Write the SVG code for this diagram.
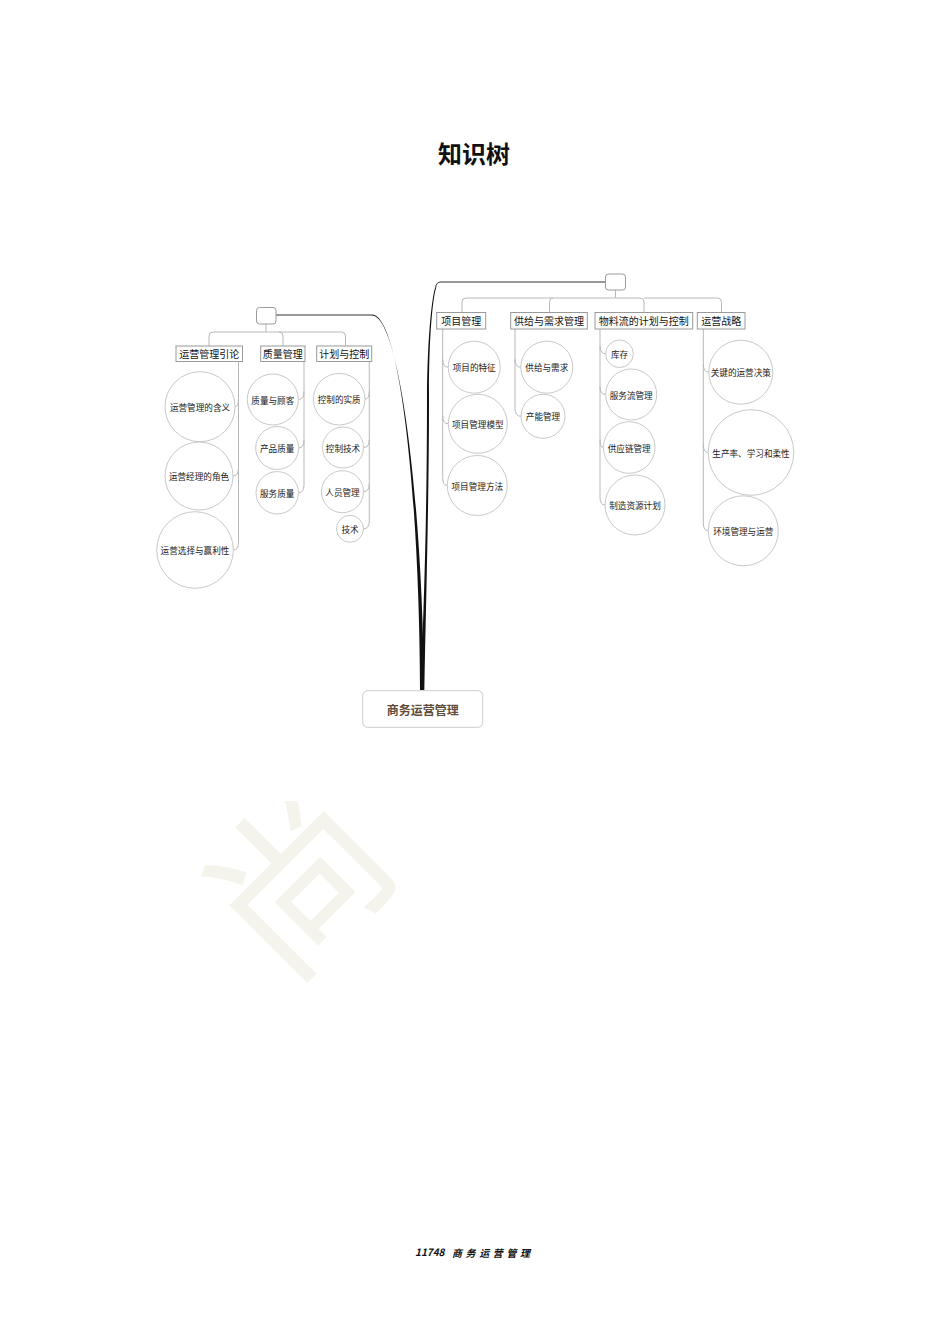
<svg xmlns="http://www.w3.org/2000/svg" width="950" height="1344" viewBox="0 0 950 1344">
<style>
text{font-family:"Noto Sans CJK SC","Liberation Sans",sans-serif;text-anchor:middle;dominant-baseline:central}
.lbl rect{fill:#fff;stroke:#9a9a9a;stroke-width:1}
.lbl text{font-size:10px;fill:#111}
.c circle{fill:#fff;stroke:#c9c9c9;stroke-width:1}
.c text{font-size:8.6px;fill:#1a1a1a}
.ln{fill:none;stroke:#b8b8b8;stroke-width:1}
.hub{fill:#fff;stroke:#9a9a9a;stroke-width:1}
.dk{fill:none;stroke:#333;stroke-width:1}
</style>
<defs>
<clipPath id="wm"><rect x="0" y="801" width="950" height="250"/></clipPath>
</defs>
<rect width="950" height="1344" fill="#fff"/>
<g id="watermark" clip-path="url(#wm)">
<text transform="translate(290,872) rotate(-45)" font-size="175" fill="#f5f4ec">尚</text>
</g>
<text id="title" x="474" y="152" font-size="24" font-weight="bold" fill="#111">知识树</text>

<g id="connectors">
<path class="dk" d="M276 315 L372 315"/>
<path d="M372 314.5 C400.5 314.5 419.5 500 420 691 L424 691 C422.5 500 399.5 315.5 372 315.5 Z" fill="#111"/>
<path class="dk" d="M605.5 282 L441 282 Q436 282 435.6 288"/>
<path d="M435 288 C431.5 300 427.3 340 427 400 C427 500 424.5 600 420.3 691 L424.3 691 C426 600 429 500 429 400 C428.7 340 432.5 300 436 288 Z" fill="#111"/>
<path class="ln" d="M266 324 L266 332"/>
<path class="ln" d="M266 332 L213 332 Q209 332 209 336 L209 346"/>
<path class="ln" d="M266 332 L279 332 Q283 332 283 336 L283 346"/>
<path class="ln" d="M279 332 L341.5 332 Q345.5 332 345.5 336 L345.5 346"/>
<path class="ln" d="M238.5 361.5 L238.5 542 M238.5 398.7 Q238.5 406.7 235 406.7 M238.5 468 Q238.5 476 233 476 M238.5 542 Q238.5 550 233.3 550"/>
<path class="ln" d="M304 361.7 L304 484.8 M304 391.5 Q304 399.5 298.3 399.5 M304 440 Q304 448 298.7 448 M304 484.8 Q304 492.8 298.4 492.8"/>
<path class="ln" d="M369.3 361 L369.3 520.8 M369.3 391.2 Q369.3 399.2 365 399.2 M369.3 439.5 Q369.3 447.5 363.5 447.5 M369.3 483.7 Q369.3 491.7 363.5 491.7 M369.3 520.8 Q369.3 528.8 363.5 528.8"/>
<path class="ln" d="M615.5 290 L615.5 298"/>
<path class="ln" d="M615.5 298 L466 298 Q462 298 462 302 L462 312.5"/>
<path class="ln" d="M553 298 Q549.5 298 549.5 302 L549.5 312.5"/>
<path class="ln" d="M615.5 298 L640 298 Q644 298 644 302 L644 312.5"/>
<path class="ln" d="M644 298 L717.5 298 Q721.5 298 721.5 302 L721.5 312.5"/>
<path class="ln" d="M442.7 329 L442.7 477.5 M442.7 359.2 Q442.7 367.2 448.2 367.2 M442.7 415.8 Q442.7 423.8 448.3 423.8 M442.7 477.5 Q442.7 485.5 447.3 485.5"/>
<path class="ln" d="M515 329 L515 408.3 M515 359.2 Q515 367.2 520.8 367.2 M515 408.3 Q515 416.3 521 416.3"/>
<path class="ln" d="M600 329 L600 497 M600 345.8 Q600 353.8 605.7 353.8 M600 386.5 Q600 394.5 605.7 394.5 M600 439.5 Q600 447.5 603.4 447.5 M600 497 Q600 505 605 505"/>
<path class="ln" d="M703.3 329 L703.3 522.8 M703.3 364.2 Q703.3 372.2 708.8 372.2 M703.3 444.5 Q703.3 452.5 708.2 452.5 M703.3 522.8 Q703.3 530.8 708.3 530.8"/>
</g>

<g id="root">
<rect x="362.7" y="690.7" width="120" height="36.6" rx="5" fill="#fff" stroke="#d6d6d6" stroke-width="1.2"/>
<text x="422.7" y="709.5" font-size="12" font-weight="bold" fill="#5e4c38">商务运营管理</text>
</g>

<g id="hub-left"><rect class="hub" x="256.5" y="307.5" width="19.5" height="16.5" rx="3"/></g>
<g id="hub-right"><rect class="hub" x="605.5" y="274" width="20" height="16" rx="3"/></g>

<g id="l1" class="lbl"><rect x="176" y="346" width="66.5" height="15.5"/><text x="209.2" y="353.8">运营管理引论</text></g>
<g id="l2" class="lbl"><rect x="260.7" y="346" width="44.3" height="15.5"/><text x="282.8" y="353.8">质量管理</text></g>
<g id="l3" class="lbl"><rect x="316.7" y="346" width="55" height="15.5"/><text x="344.2" y="353.8">计划与控制</text></g>
<g id="r1" class="lbl"><rect x="436.7" y="312.5" width="49" height="16.5"/><text x="461.2" y="320.8">项目管理</text></g>
<g id="r2" class="lbl"><rect x="510.7" y="312.5" width="76.6" height="16.5"/><text x="549" y="320.8">供给与需求管理</text></g>
<g id="r3" class="lbl"><rect x="595" y="312.5" width="97.7" height="16.5"/><text x="643.8" y="320.8">物料流的计划与控制</text></g>
<g id="r4" class="lbl"><rect x="697.3" y="312.5" width="47.7" height="16.5"/><text x="721.2" y="320.8">运营战略</text></g>

<g id="c-l1a" class="c"><circle cx="200" cy="406.7" r="35"/><text x="200" y="406.7">运营管理的含义</text></g>
<g id="c-l1b" class="c"><circle cx="199" cy="476" r="34"/><text x="199" y="476">运营经理的角色</text></g>
<g id="c-l1c" class="c"><circle cx="195" cy="550" r="38.3"/><text x="195" y="550">运营选择与赢利性</text></g>
<g id="c-l2a" class="c"><circle cx="272.8" cy="399.5" r="25.5"/><text x="272.8" y="399.5">质量与顾客</text></g>
<g id="c-l2b" class="c"><circle cx="277.2" cy="448" r="21.5"/><text x="277.2" y="448">产品质量</text></g>
<g id="c-l2c" class="c"><circle cx="277.2" cy="492.8" r="21.2"/><text x="277.2" y="492.8">服务质量</text></g>
<g id="c-l3a" class="c"><circle cx="339.2" cy="399.2" r="25.8"/><text x="339.2" y="399.2">控制的实质</text></g>
<g id="c-l3b" class="c"><circle cx="343" cy="447.5" r="20.5"/><text x="343" y="447.5">控制技术</text></g>
<g id="c-l3c" class="c"><circle cx="342.5" cy="491.7" r="21"/><text x="342.5" y="491.7">人员管理</text></g>
<g id="c-l3d" class="c"><circle cx="350" cy="528.8" r="13.5"/><text x="350" y="528.8">技术</text></g>

<g id="c-r1a" class="c"><circle cx="474.2" cy="367.2" r="26"/><text x="474.2" y="367.2">项目的特征</text></g>
<g id="c-r1b" class="c"><circle cx="477.8" cy="423.8" r="29.5"/><text x="477.8" y="423.8">项目管理模型</text></g>
<g id="c-r1c" class="c"><circle cx="477.3" cy="485.5" r="30"/><text x="477.3" y="485.5">项目管理方法</text></g>
<g id="c-r2a" class="c"><circle cx="546.8" cy="367.2" r="26"/><text x="546.8" y="367.2">供给与需求</text></g>
<g id="c-r2b" class="c"><circle cx="543" cy="416.3" r="22"/><text x="543" y="416.3">产能管理</text></g>
<g id="c-r3a" class="c"><circle cx="619.5" cy="353.8" r="13.8"/><text x="619.5" y="353.8">库存</text></g>
<g id="c-r3b" class="c"><circle cx="631.2" cy="394.5" r="25.5"/><text x="631.2" y="394.5">服务流管理</text></g>
<g id="c-r3c" class="c"><circle cx="629.2" cy="447.5" r="25.8"/><text x="629.2" y="447.5">供应链管理</text></g>
<g id="c-r3d" class="c"><circle cx="635" cy="505" r="30"/><text x="635" y="505">制造资源计划</text></g>
<g id="c-r4a" class="c"><circle cx="740.8" cy="372.2" r="32"/><text x="740.8" y="372.2">关键的运营决策</text></g>
<g id="c-r4b" class="c"><circle cx="751" cy="452.5" r="42.8"/><text x="751" y="452.5">生产率、学习和柔性</text></g>
<g id="c-r4c" class="c"><circle cx="743.3" cy="530.8" r="35"/><text x="743.3" y="530.8">环境管理与运营</text></g>

<text id="footer" x="415" y="1251.5" font-size="10" font-style="italic" font-weight="bold" fill="#111" style="text-anchor:start">11748<tspan x="452" letter-spacing="3.6">商务运营管理</tspan></text>
</svg>
